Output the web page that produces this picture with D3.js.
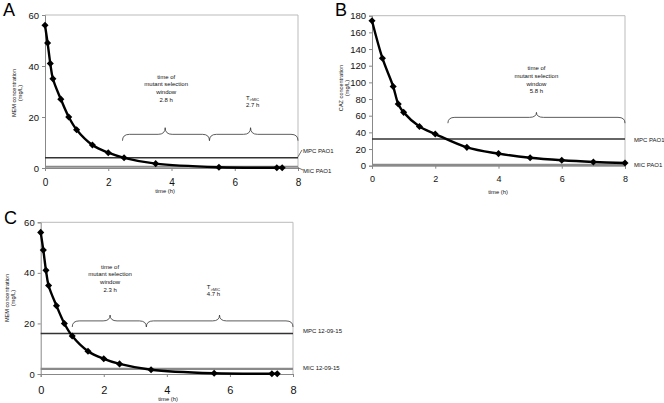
<!DOCTYPE html>
<html>
<head>
<meta charset="utf-8">
<script src="https://cdn.jsdelivr.net/npm/d3@7"></script>
<style>
  body { margin: 0; background: #fff; }
  svg { display: block; font-family: "Liberation Sans", Arial, sans-serif; }
</style>
</head>
<body>
<svg id="chart" width="664" height="403"></svg>
<script>
// meropenem (panels A and C) and ceftazidime (panel B) concentrations over time
const timeMEM = [0, 0.083, 0.167, 0.25, 0.5, 0.75, 1, 1.5, 2, 2.5, 3.5, 5.5, 7.33, 7.5];
const concMEM = [56, 49, 41, 35, 27, 20, 15, 9, 6, 4, 1.7, 0.3, 0.1, 0.1];
const timeCAZ = [0, 0.33, 0.67, 0.83, 1, 1.5, 2, 3, 4, 5, 6, 7, 8];
const concCAZ = [174, 129, 95, 74, 64, 47, 38, 22, 14.5, 9.5, 6.5, 4.5, 3.2];

// MPC / MIC thresholds (mg/L)
const mpcValues = [4, 32, 16];
const micValues = [0.5, 1, 2];
const mpcLabels = ["MPC PAO1", "MPC PAO1", "MPC 12-09-15"];
const micLabels = ["MIC PAO1", "MIC PAO1", "MIC 12-09-15"];

// time windows shown by the braces: [from, to, middle]
const windowsA = [[2.45, 5.2, 3.8], [5.2, 8, 6.5]];
const windowsB = [[2.4, 8, 5.2]];
const windowsC = [[1.0, 3.35, 2.2], [3.35, 8, 5.67]];
const windowTexts = [
    [["time of", "mutant selection", "window", "2.8 h"], ["T", "2.7 h"]],
    [["time of", "mutant selection", "window", "5.8 h"]],
    [["time of", "mutant selection", "window", "2.3 h"], ["T", "4.7 h"]]
];

const xTicks = [0, 2, 4, 6, 8];
const yTicksMEM = [0, 20, 40, 60];
const yTicksCAZ = [0, 20, 40, 60, 80, 100, 120, 140, 160, 180];

const svg = d3.select("#chart");

const panels = [
    { letter: "A", lx: 3, ly: 16, left: 45, right: 298, top: 15, bottom: 168, yMax: 60,
      time: timeMEM, conc: concMEM, yTicks: yTicksMEM, windows: windowsA, texts: windowTexts[0],
      brace: [10.7, 13.2, 15.8], textTop: [76.7, 97.7], textDx: [1, 2],
      yTitle: "MEM concentration", yx: 16, yy: 93, xFont: 10, xLabelDy: 18, xTitleX: 165, xTitleY: 193,
      labelX: 303, mpcY: 153, micY: 173, leaders: true },
    { letter: "B", lx: 335, ly: 16, left: 372, right: 625, top: 15.7, bottom: 165.7, yMax: 180,
      time: timeCAZ, conc: concCAZ, yTicks: yTicksCAZ, windows: windowsB, texts: windowTexts[1],
      brace: [51, 58, 64], textTop: [68.3], textDx: [0],
      yTitle: "CAZ concentration", yx: 343, yy: 88, xFont: 9, xLabelDy: 16.5, xTitleX: 498, xTitleY: 193.5,
      labelX: 634, mpcY: 142, micY: 167, leaders: false },
    { letter: "C", lx: 4, ly: 224, left: 40.7, right: 293, top: 222.3, bottom: 374, yMax: 60,
      time: timeMEM, conc: concMEM, yTicks: yTicksMEM, windows: windowsC, texts: windowTexts[2],
      brace: [18.6, 21, 23.3], textTop: [266.7, 287.3], textDx: [0, -6],
      yTitle: "MEM concentration", yx: 9, yy: 298, xFont: 11, xLabelDy: 20, xTitleX: 168, xTitleY: 401,
      labelX: 303, mpcY: 333, micY: 370, leaders: false }
];

panels.forEach((p, i) => {
    const x = d3.scaleLinear().domain([0, 8]).range([p.left, p.right]);
    const y = d3.scaleLinear().domain([0, p.yMax]).range([p.bottom, p.top]);
    const g = svg.append("g");

    // panel letter
    g.append("text").attr("x", p.lx).attr("y", p.ly)
        .attr("font-size", 18).text(p.letter);

    // frame top / right
    g.append("path")
        .attr("d", `M${p.left},${p.top}H${p.right}V${p.bottom}`)
        .attr("fill", "none").attr("stroke", "#bbb").attr("stroke-width", 1);

    // axes
    const yAxis = g.append("g").attr("transform", `translate(${p.left},0)`)
        .call(d3.axisLeft(y).tickValues(p.yTicks).tickSize(3).tickPadding(3));
    yAxis.selectAll("text").attr("font-size", 9.5).attr("fill", "#111")
        .attr("font-family", "Liberation Sans, Arial, sans-serif");

    const xAxis = g.append("g").attr("transform", `translate(0,${p.bottom})`)
        .call(d3.axisBottom(x).tickValues(xTicks).tickSize(3).tickPadding(0));
    xAxis.selectAll("text").attr("font-size", p.xFont).attr("fill", "#111")
        .attr("dy", null).attr("y", p.xLabelDy)
        .attr("font-family", "Liberation Sans, Arial, sans-serif");
    [yAxis, xAxis].forEach(a => {
        a.selectAll("path, line").attr("stroke", "#888");
    });

    // axis titles
    g.append("text")
        .attr("transform", `translate(${p.yx},${p.yy}) rotate(-90)`)
        .attr("text-anchor", "middle").attr("font-size", 5.6).attr("fill", "#111")
        .selectAll("tspan").data([p.yTitle, "(mg/L)"]).join("tspan")
        .attr("x", 0).attr("dy", (d, k) => k === 0 ? 0 : 5.6).text(d => d);
    g.append("text").attr("x", p.xTitleX).attr("y", p.xTitleY)
        .attr("text-anchor", "middle").attr("font-size", 5.8).attr("fill", "#111")
        .text("time (h)");

    // threshold lines
    g.append("line")
        .attr("x1", x(0)).attr("x2", x(8)).attr("y1", y(micValues[i])).attr("y2", y(micValues[i]))
        .attr("stroke", "#8a8a8a").attr("stroke-width", 2.2);
    g.append("line")
        .attr("x1", x(0)).attr("x2", x(8)).attr("y1", y(mpcValues[i])).attr("y2", y(mpcValues[i]))
        .attr("stroke", "#333").attr("stroke-width", 1.5);

    g.append("text").attr("x", p.labelX).attr("y", p.mpcY)
        .attr("font-size", 6).attr("fill", "#111").text(mpcLabels[i]);
    g.append("text").attr("x", p.labelX).attr("y", p.micY)
        .attr("font-size", 6).attr("fill", "#111").text(micLabels[i]);
    if (p.leaders) {
        g.append("line").attr("x1", x(8)).attr("y1", y(mpcValues[i]) - 1)
            .attr("x2", p.labelX - 1).attr("y2", p.mpcY - 3)
            .attr("stroke", "#333").attr("stroke-width", 0.7);
        g.append("line").attr("x1", x(8)).attr("y1", y(micValues[i]) + 1)
            .attr("x2", p.labelX).attr("y2", p.micY - 3)
            .attr("stroke", "#333").attr("stroke-width", 0.7);
    }

    // concentration curve
    const pts = p.time.map((t, k) => [t, p.conc[k]]);
    const line = d3.line().x(d => x(d[0])).y(d => y(d[1])).curve(d3.curveCatmullRom);
    g.append("path").datum(pts)
        .attr("d", line).attr("fill", "none")
        .attr("stroke", "#000").attr("stroke-width", 2.4);
    g.selectAll(".pt").data(pts).join("path")
        .attr("transform", d => `translate(${x(d[0])},${y(d[1])})`)
        .attr("d", d3.symbol(d3.symbolDiamond2, 32))
        .attr("fill", "#000");

    // braces
    const yb = y(p.brace[0]), yh = y(p.brace[1]), yp = y(p.brace[2]);
    p.windows.forEach((w, k) => {
        const x1 = x(w[0]), x2 = x(w[1]), xm = x(w[2]), r = 7;
        const d = `M${x1},${yb}Q${x1},${yh} ${x1 + r},${yh}L${xm - r},${yh}` +
            `Q${xm},${yh} ${xm},${yp}Q${xm},${yh} ${xm + r},${yh}` +
            `L${x2 - r},${yh}Q${x2},${yh} ${x2},${yb}`;
        g.append("path").attr("d", d).attr("fill", "none")
            .attr("stroke", "#333").attr("stroke-width", 0.8);

        const lines = p.texts[k];
        const t = g.append("text").attr("text-anchor", "middle")
            .attr("font-size", 6).attr("fill", "#111");
        const cx = xm + p.textDx[k];
        if (lines.length === 4) {
            lines.forEach((s, j) => {
                t.append("tspan").attr("x", cx).attr("y", p.textTop[k] + 2 + j * 7.6).text(s);
            });
        } else {
            const tl = t.append("tspan").attr("x", cx).attr("y", p.textTop[k] + 2);
            tl.text(lines[0]);
            t.append("tspan").attr("font-size", 4).attr("dy", 1.5).text(">MIC");
            t.append("tspan").attr("x", cx).attr("y", p.textTop[k] + 9).text(lines[1]);
        }
    });
});
</script>
</body>
</html>
